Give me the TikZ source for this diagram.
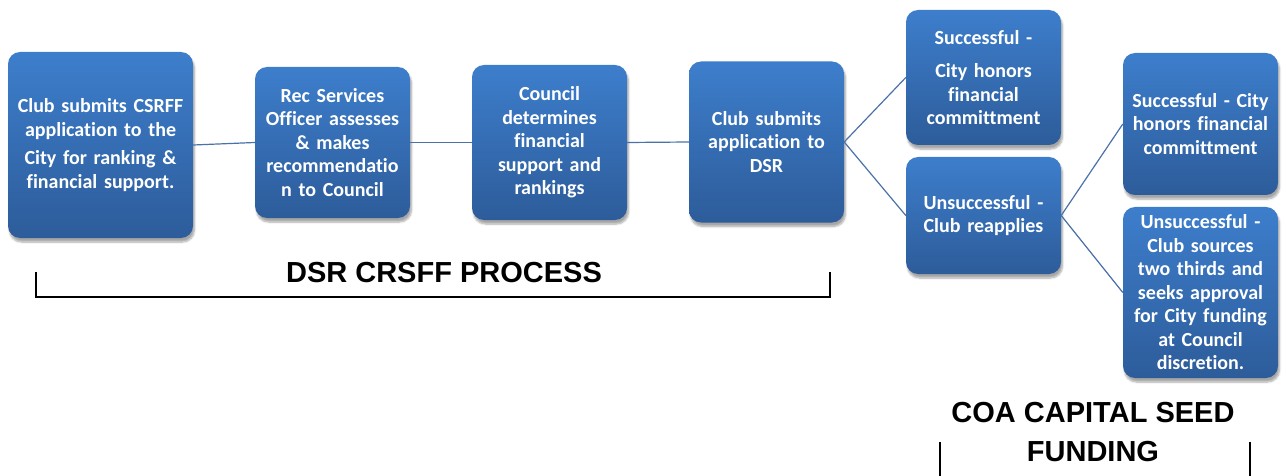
\documentclass[tikz,border=0pt]{standalone}
\usepackage{fontspec}
\setmainfont{Carlito}[RawFeature=-liga]
\newfontfamily\headfont{Liberation Sans}
\usetikzlibrary{shadows.blur}
\definecolor{boxtop}{HTML}{3D7ECC}
\definecolor{boxbot}{HTML}{2D5C9A}
\definecolor{linkblue}{HTML}{4A72A8}
\begin{document}
\begin{tikzpicture}[x=1pt,y=-1pt,
  stepbox/.style={rounded corners=12pt, top color=boxtop, bottom color=boxbot,
    draw=none, text=white, font=\bfseries\fontsize{20}{23.5}\selectfont,
    align=center, inner sep=2pt, text width=#1,
    blur shadow={shadow xshift=1.5pt, shadow yshift=-4pt, shadow blur steps=6, shadow opacity=35}},
  stepbox/.default=150pt,
  link/.style={draw=linkblue, line width=1.2pt},
  bracket/.style={draw=black, line width=1.6pt},
  heading/.style={font=\headfont\bfseries\fontsize{29}{39}\selectfont, align=center}]
\useasboundingbox (0,0) rectangle (1286,476);

% process boxes
\node[stepbox=180pt, minimum width=185pt, minimum height=186pt] (b1) at (100.5,145)
  {Club submits CSRFF\\application to the\\[5pt]City for ranking \&\\financial support.};
\node[stepbox, minimum width=155pt, minimum height=151pt] (b2) at (332.5,142.5)
  {Rec Services\\Officer assesses\\\& makes\\recommendatio\\n to Council};
\node[stepbox, minimum width=155pt, minimum height=155pt] (b3) at (549.5,142.5)
  {Council\\determines\\financial\\support and\\rankings};
\node[stepbox, minimum width=155pt, minimum height=161pt] (b4) at (766.5,142)
  {Club submits\\application to\\DSR};
\node[stepbox, minimum width=155pt, minimum height=135pt] (b5) at (983.5,77.5)
  {Successful -\\[10pt]City honors\\financial\\committment};
\node[stepbox, minimum width=155pt, minimum height=117pt] (b6) at (983.5,215.5)
  {Unsuccessful -\\Club reapplies};
\node[stepbox, minimum width=155pt, minimum height=142pt] (b7) at (1200.5,124)
  {Successful - City\\honors financial\\committment};
\node[stepbox, minimum width=155pt, minimum height=171pt] (b8) at (1200.5,292.5)
  {Unsuccessful -\\Club sources\\two thirds and\\seeks approval\\for City funding\\at Council\\discretion.};

% connectors
\draw[link] (b1.east) -- (b2.west);
\draw[link] (b2.east) -- (b3.west);
\draw[link] (b3.east) -- (b4.west);
\draw[link] (b4.east) -- (b5.west);
\draw[link] (b4.east) -- (b6.west);
\draw[link] (b6.east) -- (b7.west);
\draw[link] (b6.east) -- (b8.west);

% stage brackets
\coordinate (p1) at (36,272);
\coordinate (p2) at (36,297);
\coordinate (p3) at (830,297);
\coordinate (p4) at (830,272);
\draw[bracket] (p1) -- (p2) -- (p3) -- (p4);
\node[heading] (h1) at (444,273) {DSR CRSFF PROCESS};

\coordinate (q1) at (940,442);
\coordinate (q2) at (940,476);
\coordinate (q3) at (1250,442);
\coordinate (q4) at (1250,476);
\draw[bracket] (q1) -- (q2);
\draw[bracket] (q3) -- (q4);
\node[heading] (h2) at (1093,432) {COA CAPITAL SEED\\FUNDING};
\end{tikzpicture}
\end{document}
